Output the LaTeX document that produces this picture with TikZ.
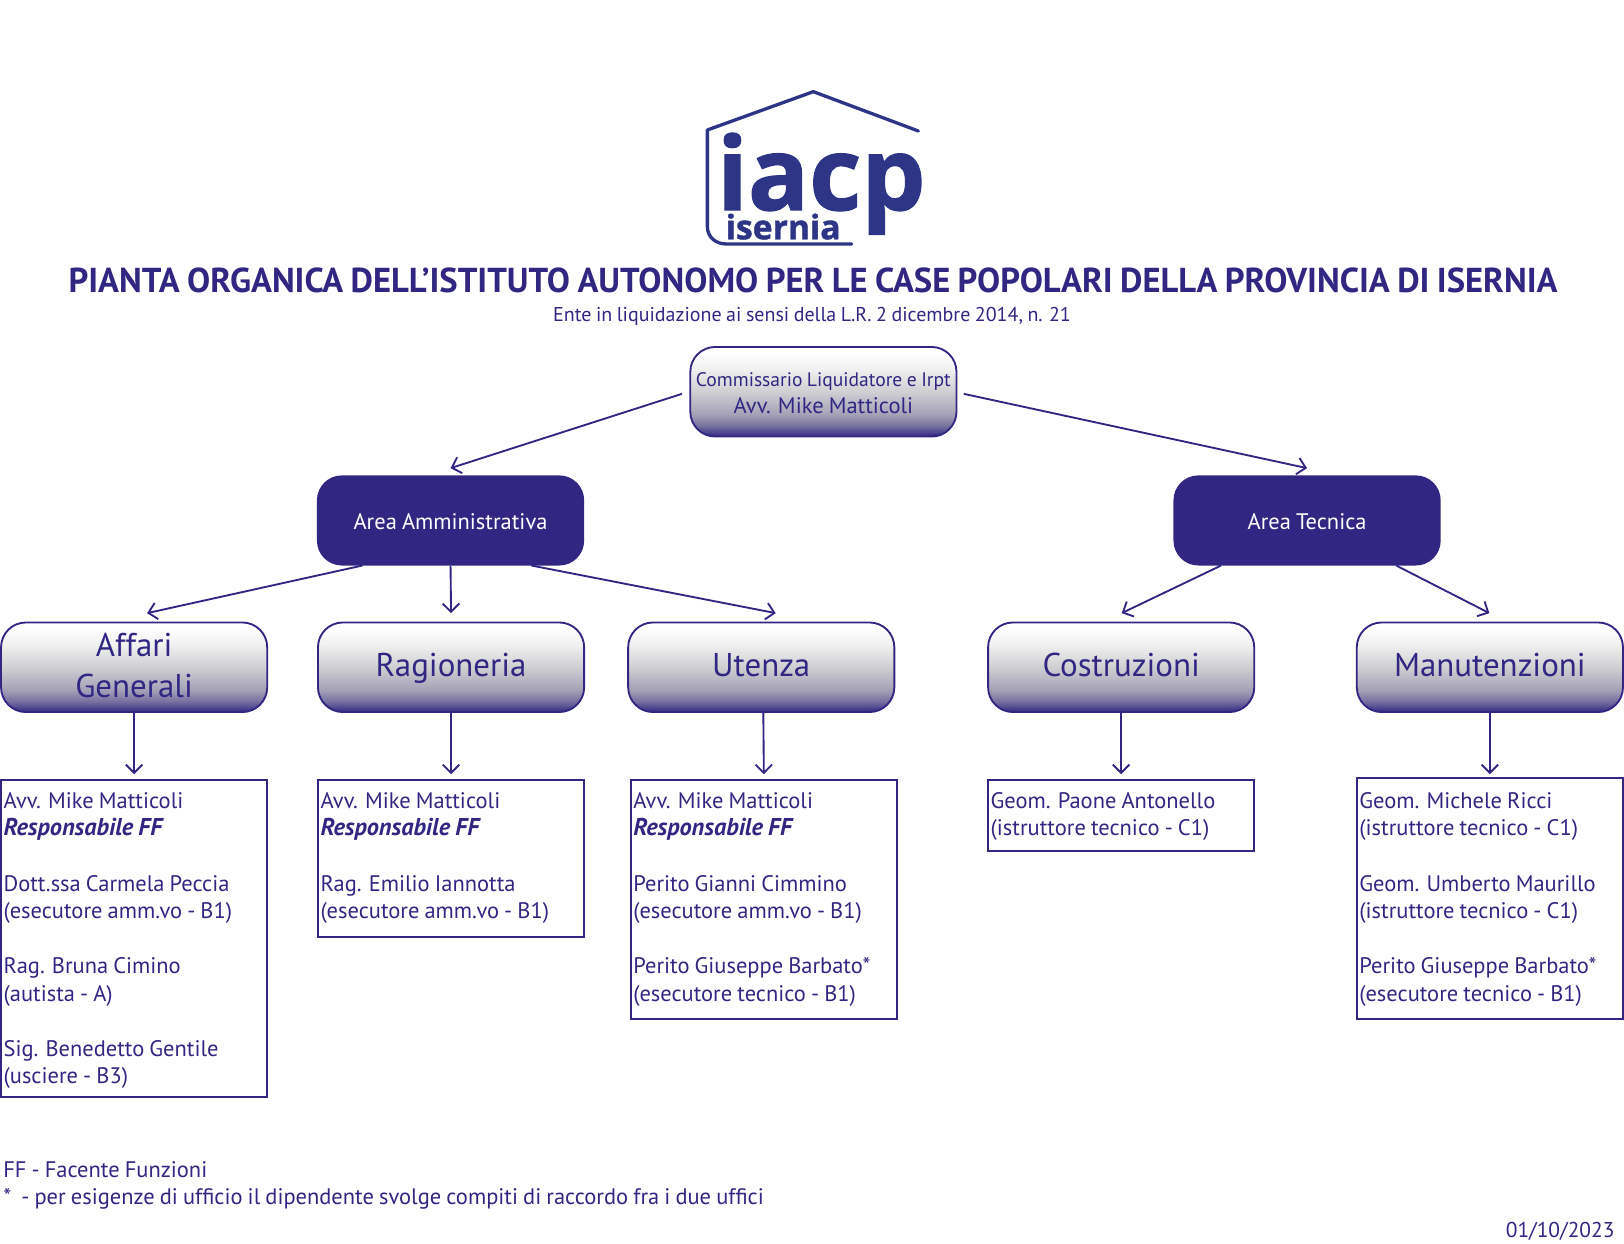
\documentclass[tikz,border=0pt]{standalone}
\usepackage{fontspec}
\setmainfont[WordSpace=0.85]{PT Sans}
\newfontfamily\logofont[BoldFeatures={FakeBold=1.2}]{Open Sans}
\usetikzlibrary{arrows.meta}
\definecolor{iacp}{HTML}{312783}
\definecolor{logoblue}{HTML}{2E3586}
\definecolor{ga}{HTML}{4F4790}
\definecolor{gb}{HTML}{77709F}
\definecolor{gc}{HTML}{A5A2B8}
\definecolor{gd}{HTML}{CFCFD2}
\definecolor{ge}{HTML}{F0F0F0}
\pgfdeclareverticalshading{boxgrad}{100bp}{color(0bp)=(iacp); color(25bp)=(iacp); color(27.5bp)=(ga); color(31bp)=(gb); color(37.5bp)=(gc); color(50bp)=(gd); color(62.5bp)=(ge); color(72bp)=(white); color(100bp)=(white)}
\tikzset{
  head/.style={rounded corners=24pt,draw=iacp,line width=1.8pt,outer sep=0pt,shading=boxgrad,minimum width=257pt,minimum height=86.5pt,inner sep=0pt,align=center,text=iacp,font=\fontsize{31.8}{39}\selectfont},
  headone/.style={head,text height=24pt,text depth=6.5pt},
  areabox/.style={rounded corners=24pt,fill=iacp,outer sep=0pt,minimum width=258pt,minimum height=87pt,inner sep=0pt,text=white,text height=17.5pt,text depth=0pt,font=\fontsize{21.7}{26}\selectfont},
  detail/.style={draw=iacp,line width=1.8pt,outer sep=0pt,anchor=north west,inner xsep=2.5pt,inner ysep=0pt,text=iacp,font=\fontsize{21.7}{26.6}\selectfont},
  arr/.style={draw=iacp,line width=1.8pt,-{Straight Barb[length=8pt,width=16pt,line width=1.8pt]}},
  plain/.style={text=iacp,inner sep=0pt,font=\fontsize{21.7}{26.6}\selectfont},
}
\newcommand{\dtext}[3]{\parbox[c][#1pt][t]{#2pt}{\raggedright\fontsize{21.7}{26.6}\selectfont\rule{0pt}{27pt}#3}}
\newcommand{\resp}{{\fontsize{23.5}{26.6}\selectfont\textbf{\textit{Responsabile FF}}}}
\begin{document}
\begin{tikzpicture}[x=1pt,y=-1pt]
\useasboundingbox (0,0) rectangle (1568,1201.1);
% logo
\draw[logoblue,line width=3.2pt,line cap=round,line join=round]
  (886.7,126.5) -- (785.3,88.5) -- (683,125.5) -- (683,218.8) .. controls (683,229) and (691,235.6) .. (701.6,235.6) -- (822.3,235.6);
\node[anchor=base west,inner sep=0pt,text=logoblue] (logomain) at (692,202.8) {\logofont\bfseries\fontsize{98}{98}\selectfont iacp};
\node[anchor=base west,inner sep=0pt,text=logoblue] (logosub) at (700.5,231) {\logofont\bfseries\fontsize{32.5}{32}\selectfont isernia};
% titles
\node[text=iacp,inner sep=0pt,anchor=base] (title) at (785,282.5) {\fontsize{33.4}{36}\selectfont\bfseries PIANTA ORGANICA DELL’ISTITUTO AUTONOMO PER LE CASE POPOLARI DELLA PROVINCIA DI ISERNIA};
\node[text=iacp,inner sep=0pt,anchor=base] (subtitle) at (784,310) {\fontsize{19.3}{24}\selectfont Ente in liquidazione ai sensi della L.R. 2 dicembre 2014, n. 21};
% top
\node[head,anchor=north west,font=\fontsize{18.9}{25}\selectfont] (top) at (666.5,335) {\rule{0pt}{16pt}Commissario Liquidatore e Irpt\\[1pt]{\fontsize{21.7}{25}\selectfont Avv. Mike Matticoli}};
\node[areabox,anchor=north west] (am) at (306,459) {Area Amministrativa};
\node[areabox,anchor=north west] (at) at (1133,459) {Area Tecnica};
\node[head,anchor=north west] (af) at (1,601) {Affari\\Generali\rule[-4pt]{0pt}{0pt}};
\node[headone,anchor=north west] (ra) at (307,601) {Ragioneria};
\node[headone,anchor=north west] (ut) at (606.5,601) {Utenza};
\node[headone,anchor=north west] (co) at (954,601) {Costruzioni};
\node[headone,anchor=north west] (ma) at (1310,601) {Manutenzioni};
% detail
\node[detail] (d1) at (1,753.5) {\dtext{306}{252}{Avv. Mike Matticoli\\\resp\\[26.6pt]Dott.ssa Carmela Peccia\\(esecutore amm.vo - B1)\\[26.6pt]Rag. Bruna Cimino\\(autista - A)\\[26.6pt]Sig. Benedetto Gentile\\(usciere - B3)}};
\node[detail] (d2) at (307,753.5) {\dtext{151}{252}{Avv. Mike Matticoli\\\resp\\[26.6pt]Rag. Emilio Iannotta\\(esecutore amm.vo - B1)}};
\node[detail] (d3) at (609,753.5) {\dtext{230}{252}{Avv. Mike Matticoli\\\resp\\[26.6pt]Perito Gianni Cimmino\\(esecutore amm.vo - B1)\\[26.6pt]Perito Giuseppe Barbato*\\(esecutore tecnico - B1)}};
\node[detail] (d4) at (954,753.5) {\dtext{68}{252}{Geom. Paone Antonello\\(istruttore tecnico - C1)}};
\node[detail] (d5) at (1310,751.5) {\parbox[c][232pt][t]{252pt}{\raggedright\fontsize{21.7}{26.6}\selectfont\rule{0pt}{29pt}Geom. Michele Ricci\\(istruttore tecnico - C1)\\[26.6pt]Geom. Umberto Maurillo\\(istruttore tecnico - C1)\\[26.6pt]Perito Giuseppe Barbato*\\(esecutore tecnico - B1)}};
% connectors
\draw[arr] ([shift={(-8,2)}]top.west) -- ([shift={(0,-7)}]am.north);
\draw[arr] ([shift={(7,2)}]top.east) -- ([shift={(0,-7)}]at.north);
\draw[arr] ([xshift=-85pt]am.south) -- ([shift={(12.5,-9)}]af.north);
\draw[arr] (am.south) -- ([shift={(0,-9)}]ra.north);
\draw[arr] ([xshift=78pt]am.south) -- ([shift={(14,-9)}]ut.north);
\draw[arr] ([xshift=-83pt]at.south) -- ([shift={(0.5,-9)}]co.north);
\draw[arr] ([xshift=86pt]at.south) -- ([shift={(-0.5,-9)}]ma.north);
\draw[arr] (af.south) -- ([shift={(0,-6)}]d1.north);
\draw[arr] (ra.south) -- ([shift={(0,-6)}]d2.north);
\draw[arr] ([xshift=2pt]ut.south) -- ([shift={(0,-6)}]d3.north);
\draw[arr] (co.south) -- ([shift={(0,-6)}]d4.north);
\draw[arr] (ma.south) -- ([shift={(0,-4)}]d5.north);
% footer
\node[plain,anchor=base west] (f1) at (3,1137) {FF - Facente Funzioni};
\node[plain,anchor=base west] (f2) at (3,1163) {*\ \ - per esigenze di ufficio il dipendente svolge compiti di raccordo fra i due uffici};
\node[plain,anchor=base east,font=\fontsize{20.7}{26}\selectfont] (date) at (1559,1195) {01/10/2023};
\end{tikzpicture}
\end{document}
